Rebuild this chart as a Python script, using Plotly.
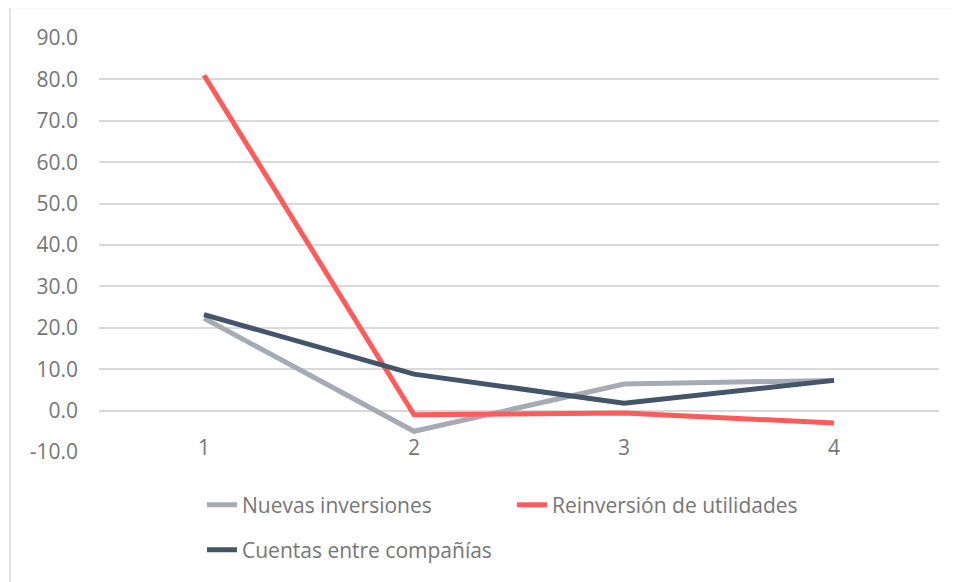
import plotly.graph_objects as go

CATEGORIES = ["1", "2", "3", "4"]
NUEVAS = [22.3, -5.0, 6.4, 7.3]
REINVERSION = [81.0, -1.0, -0.6, -3.0]
CUENTAS = [23.2, 8.8, 1.8, 7.3]
Y_TICKS = [-10, 0, 10, 20, 30, 40, 50, 60, 70, 80, 90]

COLOR_NUEVAS = "#a5aab4"
COLOR_REINV = "#ff5b5b"
COLOR_CUENTAS = "#44546a"
TEXT_COLOR = "#767676"
FONT = "Open Sans, Noto Sans, sans-serif"
FONT_SIZE = 21

fig = go.Figure()
fig.add_trace(go.Scatter(
    x=CATEGORIES, y=NUEVAS, name="Nuevas inversiones",
    mode="lines", line=dict(color=COLOR_NUEVAS, width=5),
    legend="legend",
))
fig.add_trace(go.Scatter(
    x=CATEGORIES, y=REINVERSION, name="Reinversión de utilidades",
    mode="lines", line=dict(color=COLOR_REINV, width=5),
    legend="legend",
))
fig.add_trace(go.Scatter(
    x=CATEGORIES, y=CUENTAS, name="Cuentas entre compañías",
    mode="lines", line=dict(color=COLOR_CUENTAS, width=5),
    legend="legend2",
))

legend_style = dict(
    orientation="h", xanchor="left", yanchor="middle",
    font=dict(family=FONT, size=FONT_SIZE, color=TEXT_COLOR),
    bgcolor="rgba(0,0,0,0)", itemclick=False,
    entrywidth=265, entrywidthmode="pixels",
)

# the page adds an 8px body margin, so margins are shifted by that amount
fig.update_layout(
    width=959, height=582,
    margin=dict(l=91, r=28, t=30, b=138),
    plot_bgcolor="white", paper_bgcolor="white",
    font=dict(family=FONT, size=FONT_SIZE, color=TEXT_COLOR),
    showlegend=True,
    legend=dict(x=0.1226, y=-0.128, **legend_style),
    legend2=dict(x=0.1226, y=-0.237, **legend_style),
    xaxis=dict(
        type="category", range=[-0.5, 3.5],
        showgrid=False, zeroline=False, showline=False, ticks="",
        anchor="free", position=0.1, ticklabelstandoff=22,
        tickfont=dict(family=FONT, size=FONT_SIZE, color=TEXT_COLOR),
    ),
    yaxis=dict(
        range=[-10, 90],
        tickvals=Y_TICKS, ticktext=[f"{v:.1f}" for v in Y_TICKS],
        showgrid=True, gridcolor="#d9d9d9", gridwidth=1.5,
        zeroline=False, showline=False, ticks="",
        ticklabelstandoff=20,
        tickfont=dict(family=FONT, size=FONT_SIZE, color=TEXT_COLOR),
    ),
    shapes=[
        dict(type="line", xref="paper", yref="paper",
             x0=-0.106, x1=-0.106, y0=1.073, y1=-0.35,
             line=dict(color="#d9d9d9", width=1.5)),
        dict(type="line", xref="paper", yref="paper",
             x0=-0.106, x1=1.05, y0=1.073, y1=1.073,
             line=dict(color="#f2f2f2", width=1.5)),
    ],
)

fig.write_html("out.html")
